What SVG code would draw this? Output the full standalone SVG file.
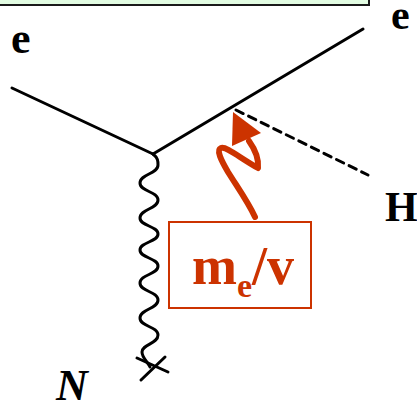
<svg xmlns="http://www.w3.org/2000/svg" width="417" height="409" viewBox="0 0 417 409">
<defs>
<style>
.lbl{font-family:"Liberation Serif","Times New Roman",serif;font-weight:bold;fill:#000}
.line{stroke:#000;stroke-width:3;fill:none;stroke-linecap:round}
.red{fill:#cc3300}
</style>
</defs>
<rect width="417" height="409" fill="#fff"/>
<g id="banner">
<rect x="-3" y="-10" width="372" height="15" fill="#e2fce2" stroke="#1a1a1a" stroke-width="2"/>
</g>
<g id="connectors">
<line class="line" x1="12" y1="88" x2="153" y2="154"/>
<line class="line" x1="153" y1="154" x2="363" y2="29"/>
<line class="line" x1="236" y1="110" x2="368" y2="175" stroke-dasharray="8,6" stroke-linecap="butt"/>
<path class="line" stroke-width="3.6" d="M153,154 C158,158 158,161 158,165 C158,174 140,174 140,183 C140,192 158,191 158,200 C158,209 140,209 140,218 C140,226 158,226 158,234 C158,242 140,242 140,250 C140,258 158,258 158,266 C158,275 140,274 140,283 C140,292 158,291 158,300 C158,309 140,309 140,318 C140,327 158,326 158,335 C158,344 142,344 142,352 C142,358 148,362 150,367"/>
<path class="line" stroke-width="5" d="M137,358 L168,372 M141,380 L165,357"/>
<path d="M255,217 C248,202 238,188 228,172 C221,160 216,150 221,148 C226,146 240,158 258,168 C259,158 254,148 249,141" fill="none" stroke="#cc3300" stroke-width="6" stroke-linecap="round" stroke-linejoin="round"/>
<polygon class="red" points="233,112 232,146 261,133"/>
</g>
<g id="e-in"><text class="lbl" x="11" y="53" font-size="44">e</text></g>
<g id="e-out"><text class="lbl" x="391" y="29" font-size="42">e</text></g>
<g id="H"><text class="lbl" x="385" y="221" font-size="42">H</text></g>
<g id="N"><text class="lbl" x="56" y="400" font-size="44" font-style="italic">N</text></g>
<g id="mass-box">
<rect x="169" y="222" width="142" height="86" fill="#fff" stroke="#cc3300" stroke-width="2"/>
<text class="lbl red" x="192" y="284" font-size="54" style="fill:#cc3300">m<tspan font-size="34" dy="13">e</tspan><tspan dy="-13">/v</tspan></text>
</g>
</svg>
